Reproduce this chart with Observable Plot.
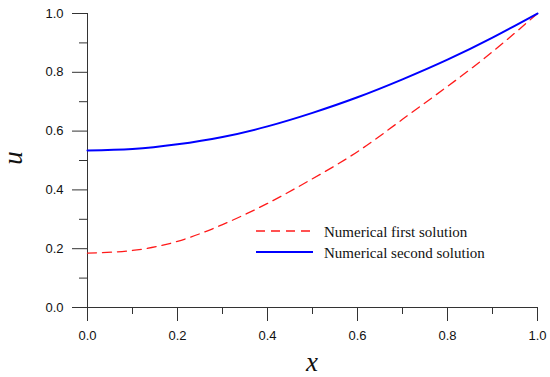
<!DOCTYPE html>
<html>
<head>
<meta charset="utf-8">
<script src="https://cdn.jsdelivr.net/npm/d3@7"></script>
<script src="https://cdn.jsdelivr.net/npm/@observablehq/plot@0.6"></script>
<style>
  html, body { margin: 0; padding: 0; background: #fff; }
  #chart { position: relative; width: 550px; height: 377px; }
</style>
</head>
<body>
<div id="chart"></div>
<script>
const xValues = [0, 0.1, 0.2, 0.3, 0.4, 0.5, 0.6, 0.7, 0.8, 0.9, 1.0];
const firstSolution = [0.185, 0.194, 0.225, 0.282, 0.354, 0.438, 0.530, 0.640, 0.752, 0.870, 1.0];
const secondSolution = [0.534, 0.539, 0.555, 0.580, 0.616, 0.662, 0.715, 0.776, 0.843, 0.918, 1.0];
const majorTicks = [0, 0.2, 0.4, 0.6, 0.8, 1.0];
const minorTicks = [0.1, 0.3, 0.5, 0.7, 0.9];
const seriesNames = ["Numerical first solution", "Numerical second solution"];
const xLabel = "x";
const yLabel = "u";

const first = xValues.map((x, i) => ({x, u: firstSolution[i]}));
const second = xValues.map((x, i) => ({x, u: secondSolution[i]}));

const axisColor = "#333";
const fmt = d => d.toFixed(1);

const plot = Plot.plot({
  width: 550,
  height: 377,
  marginLeft: 87,
  marginRight: 13,
  marginTop: 13,
  marginBottom: 70,
  style: {fontFamily: "'Liberation Sans', Arial, sans-serif", fontSize: "13px", color: axisColor, background: "#fff"},
  x: {domain: [0, 1], axis: null},
  y: {domain: [0, 1], axis: null},
  marks: [
    Plot.axisY({ticks: majorTicks, tickSize: 15, tickPadding: 9, tickFormat: fmt, label: null, stroke: axisColor, fill: "#111", fontSize: 13}),
    Plot.axisY({ticks: minorTicks, tickSize: 8, tickFormat: null, text: null, label: null, stroke: axisColor}),
    Plot.axisX({ticks: majorTicks, tickSize: 14, tickPadding: 9, tickFormat: fmt, label: null, stroke: axisColor, fill: "#111", fontSize: 13}),
    Plot.axisX({ticks: minorTicks, tickSize: 7, tickFormat: null, text: null, label: null, stroke: axisColor}),
    Plot.ruleX([0], {stroke: axisColor}),
    Plot.ruleY([0], {stroke: axisColor}),
    Plot.line(first, {x: "x", y: "u", curve: "natural", stroke: "#ff1a1a", strokeWidth: 1.3, strokeDasharray: "9,6"}),
    Plot.line(second, {x: "x", y: "u", curve: "natural", stroke: "#0000ff", strokeWidth: 2})
  ]
});

document.getElementById("chart").appendChild(plot);

// Axis labels and legend
const svg = d3.select(plot);
svg.append("text")
  .attr("transform", "translate(22,158) rotate(-90)")
  .attr("text-anchor", "middle")
  .attr("font-family", "'Liberation Serif', 'Times New Roman', serif")
  .attr("font-style", "italic")
  .attr("font-size", 27)
  .attr("fill", "#111")
  .text(yLabel);
svg.append("text")
  .attr("x", 312).attr("y", 371)
  .attr("text-anchor", "middle")
  .attr("font-family", "'Liberation Serif', 'Times New Roman', serif")
  .attr("font-style", "italic")
  .attr("font-size", 27)
  .attr("fill", "#111")
  .text(xLabel);

const legend = svg.append("g").attr("text-anchor", "start");
const legendItems = [
  {name: seriesNames[0], stroke: "#ff1a1a", width: 1.3, dash: "9,6", y: 231},
  {name: seriesNames[1], stroke: "#0000ff", width: 2, dash: null, y: 252}
];
legendItems.forEach(d => {
  legend.append("line")
    .attr("x1", 256).attr("x2", 313).attr("y1", d.y).attr("y2", d.y)
    .attr("stroke", d.stroke).attr("stroke-width", d.width)
    .attr("stroke-dasharray", d.dash);
  legend.append("text")
    .attr("x", 324).attr("y", d.y + 6)
    .attr("text-anchor", "start")
    .attr("font-family", "'Liberation Serif', 'Times New Roman', serif")
    .attr("font-size", 15)
    .attr("fill", "#111")
    .text(d.name);
});
</script>
</body>
</html>
